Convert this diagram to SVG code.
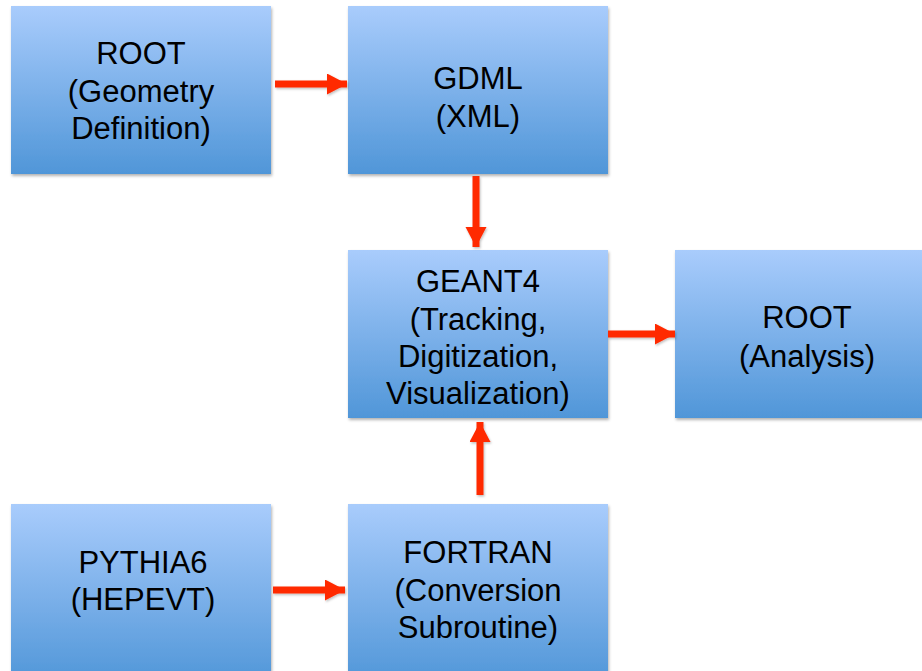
<svg xmlns="http://www.w3.org/2000/svg" width="922" height="671" viewBox="0 0 922 671">
<defs>
<linearGradient id="g" x1="0" y1="0" x2="0" y2="1">
<stop offset="0" stop-color="#A9CCFC"/>
<stop offset="1" stop-color="#5096D8"/>
</linearGradient>
<filter id="sh" x="-5%" y="-5%" width="115%" height="115%">
<feDropShadow dx="1" dy="2" stdDeviation="1.5" flood-color="#000" flood-opacity="0.3"/>
</filter>
<filter id="ash" x="-20%" y="-20%" width="140%" height="140%">
<feDropShadow dx="1" dy="1.5" stdDeviation="1" flood-color="#000" flood-opacity="0.25"/>
</filter>
<marker id="ah" markerUnits="userSpaceOnUse" markerWidth="22" markerHeight="22" refX="20" refY="10.5" orient="auto">
<path d="M0,0 L20,10.5 L0,21 Z" fill="#FF2A00"/>
</marker>
</defs>
<style>
.box{fill:url(#g);filter:url(#sh);}
.t{font-family:"Liberation Sans",Arial,sans-serif;font-size:31px;fill:#000;text-anchor:middle;}
.c{stroke:#FF2A00;stroke-width:7;fill:none;marker-end:url(#ah);}
#connectors{filter:url(#ash);}
</style>
<rect width="922" height="671" fill="#fff"/>
<g id="root-geom">
<rect class="box" x="11" y="6" width="260" height="168"/>
<text class="t" x="141" y="64">ROOT</text>
<text class="t" x="141" y="101.5">(Geometry</text>
<text class="t" x="141" y="139">Definition)</text>
</g>
<g id="gdml">
<rect class="box" x="348" y="6" width="260" height="168"/>
<text class="t" x="478" y="89">GDML</text>
<text class="t" x="478" y="127">(XML)</text>
</g>
<g id="geant4">
<rect class="box" x="348" y="250" width="260" height="168"/>
<text class="t" x="478" y="292">GEANT4</text>
<text class="t" x="478" y="330">(Tracking,</text>
<text class="t" x="478" y="367">Digitization,</text>
<text class="t" x="478" y="404">Visualization)</text>
</g>
<g id="root-analysis">
<rect class="box" x="675" y="250" width="262" height="168"/>
<text class="t" x="807" y="328">ROOT</text>
<text class="t" x="807" y="367">(Analysis)</text>
</g>
<g id="pythia6">
<rect class="box" x="11" y="504" width="260" height="180"/>
<text class="t" x="143" y="573">PYTHIA6</text>
<text class="t" x="143" y="610">(HEPEVT)</text>
</g>
<g id="fortran">
<rect class="box" x="348" y="504" width="260" height="180"/>
<text class="t" x="478" y="563">FORTRAN</text>
<text class="t" x="478" y="601">(Conversion</text>
<text class="t" x="478" y="638">Subroutine)</text>
</g>
<g id="connectors">
<line class="c" x1="275" y1="84" x2="347" y2="84"/>
<line class="c" x1="476" y1="176" x2="476" y2="247"/>
<line class="c" x1="608" y1="334" x2="675" y2="334"/>
<line class="c" x1="480" y1="495" x2="480" y2="422"/>
<line class="c" x1="273" y1="590" x2="345" y2="590"/>
</g>
</svg>
